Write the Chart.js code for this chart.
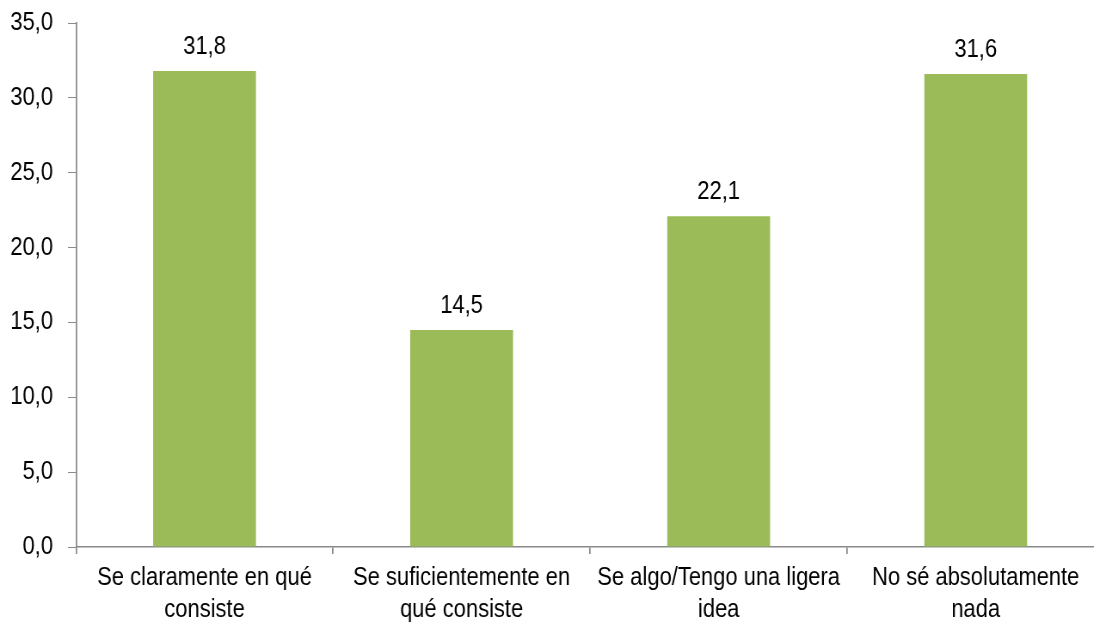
<!DOCTYPE html>
<html><head><meta charset="utf-8">
<script src="https://cdn.jsdelivr.net/npm/chart.js@4"></script>
<style>html,body{margin:0;padding:0;overflow:hidden;background:#fff}
#wrap{width:1284px;height:626px;position:relative;transform:scaleX(0.86);transform-origin:0 0}</style>
</head><body><div id="wrap"><canvas id="c" width="1284" height="626"></canvas></div>
<script>
const categories = [["Se claramente en qué","consiste"],["Se suficientemente en","qué consiste"],["Se algo/Tengo una ligera","idea"],["No sé absolutamente","nada"]];
const values = [31.8, 14.5, 22.1, 31.6];
const yMin = 0, yMax = 35, yStep = 5;
const fmt = v => v.toFixed(1).replace('.', ',');
const SX = 0.86;
const FONT = "'Liberation Sans', Arial, sans-serif";
const FS = 25.5;
const axisColor = '#898989';

const labelPlugin = {
  id: 'vals',
  afterDatasetsDraw(chart) {
    const ctx = chart.ctx;
    const meta = chart.getDatasetMeta(0);
    ctx.save();
    ctx.font = FS + 'px ' + FONT;
    ctx.fillStyle = '#000';
    ctx.textAlign = 'center';
    ctx.textBaseline = 'alphabetic';
    meta.data.forEach((bar, i) => {
      ctx.fillText(fmt(values[i]), bar.x, bar.y - 17);
    });
    ctx.restore();
  }
};

new Chart(document.getElementById('c'), {
  type: 'bar',
  data: { labels: categories, datasets: [{ data: values, backgroundColor: '#9BBB59', barPercentage: 0.4, categoryPercentage: 1.0 }] },
  options: {
    responsive: false, animation: false,
    layout: { padding: { top: 23, left: 0, right: 0, bottom: 0 } },
    plugins: { legend: { display: false }, tooltip: { enabled: false } },
    scales: {
      x: {
        grid: { display: true, drawOnChartArea: false, drawTicks: true, tickLength: 7, color: axisColor, offset: true, lineWidth: 1.5 / SX },
        border: { color: axisColor, width: 1.5 },
        ticks: { color: '#000', font: { family: FONT, size: FS, lineHeight: 1.255 }, maxRotation: 0, autoSkip: false, padding: 8 },
        afterFit(s) { s.height = 79; s.paddingLeft = 0; s.paddingRight = 0; }
      },
      y: {
        min: yMin, max: yMax,
        grid: { display: true, drawOnChartArea: false, drawTicks: true, tickLength: 8 / SX, color: axisColor },
        border: { color: axisColor, width: 1.5 / SX },
        ticks: { stepSize: yStep, color: '#000', font: { family: FONT, size: FS }, padding: 15 / SX, callback: v => fmt(v) },
        afterFit(s) { s.width = 76 / SX; s.paddingTop = 0; s.paddingBottom = 0; }
      }
    }
  },
  plugins: [labelPlugin]
});
</script></body></html>
